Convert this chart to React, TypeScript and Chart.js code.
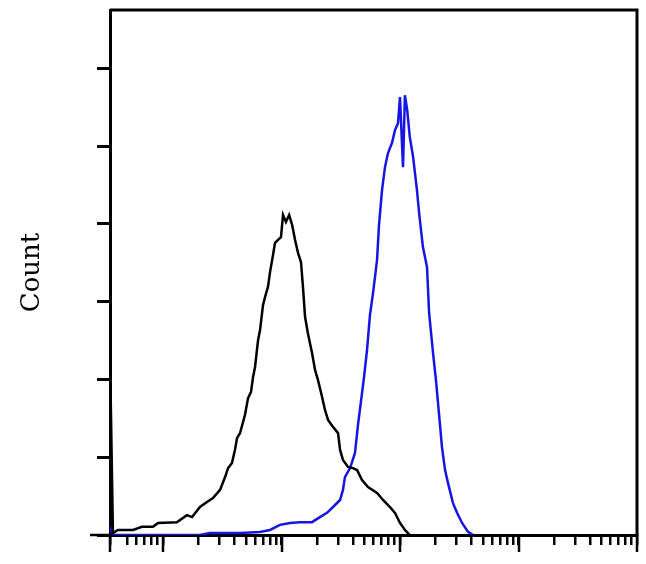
import { useEffect, useRef } from 'react';
import { Chart, registerables } from 'chart.js';

Chart.register(...registerables);

// ---- data (fluorescence intensity, count) ----
const X_MIN = 0.357;
const X_MAX = 10000;
const Y_MAX = 135;

const CONTROL_X = [0.357, 0.378, 0.417, 0.558, 0.665, 0.823, 0.907, 1.31, 1.59, 1.76, 2.05, 2.35, 2.64, 3.03, 3.34, 3.54, 3.82, 4.05, 4.21, 4.47, 4.92, 5.22, 5.53, 5.75, 5.98, 6.34, 6.59, 6.98, 7.26, 7.69, 8.0, 8.48, 8.81, 9.34, 9.9, 10.3, 10.9, 11.6, 12.3, 13.0, 13.8, 14.6, 15.2, 15.8, 16.7, 18.1, 19.2, 20.3, 22.0, 23.3, 24.7, 27.2, 30.0, 31.2, 33.0, 36.4, 40.1, 43.4, 47.8, 53.7, 64.0, 71.9, 82.3, 90.7, 100, 110, 121];
const CONTROL_Y = [46.3, 0.5, 1.3, 1.3, 2.1, 2.1, 3.1, 3.3, 5.1, 4.6, 7.2, 8.5, 9.5, 11.6, 14.9, 17.2, 18.5, 21.9, 24.9, 26.2, 30.9, 35.2, 36.8, 40.6, 43.2, 50.1, 52.7, 59.1, 61.2, 63.8, 67.6, 72.0, 75.1, 75.9, 76.6, 82.3, 80.5, 82.3, 79.7, 75.9, 72.5, 70.2, 63.5, 56.1, 51.9, 46.8, 42.4, 39.9, 35.5, 32.1, 29.6, 27.8, 26.2, 21.9, 19.3, 17.5, 17.2, 16.7, 14.1, 12.3, 10.8, 9.0, 7.2, 5.7, 3.1, 1.3, 0];

const STAINED_X = [0.357, 0.378, 2.05, 2.49, 4.47, 6.59, 8.0, 9.71, 11.8, 14.3, 18.1, 21.1, 24.2, 27.2, 31.2, 33.0, 34.3, 37.9, 41.7, 44.2, 47.8, 49.7, 52.7, 55.8, 59.2, 64.0, 66.5, 70.5, 74.7, 79.2, 85.6, 90.7, 96.2, 100, 106, 110, 115, 121, 129, 139, 145, 156, 169, 176, 190, 201, 213, 226, 240, 254, 280, 303, 334, 375, 413];
const STAINED_Y = [2.1, 0, 0, 0.5, 0.5, 0.8, 1.3, 2.6, 3.1, 3.3, 3.3, 4.6, 5.7, 7.2, 9.0, 11.6, 14.9, 17.2, 21.1, 28.3, 36.5, 40.6, 47.6, 56.6, 62.2, 70.7, 79.7, 88.7, 94.6, 98.2, 100.8, 104.1, 105.9, 112.6, 94.6, 113.1, 109.3, 102.3, 97.2, 88.7, 82.8, 74.1, 68.9, 57.1, 46.8, 39.9, 31.4, 22.6, 16.7, 13.4, 8.2, 5.7, 3.1, 0.8, 0];

const X_MAJOR_TICKS = [X_MIN, 1, 10, 100, 1000, 10000];
const X_MINOR_TICKS = [0.5, 0.6, 0.7, 0.8, 0.9, 2, 3, 4, 5, 6, 7, 8, 9, 20, 30, 40, 50, 60, 70, 80, 90, 200, 300, 400, 500, 600, 700, 800, 900, 2000, 3000, 4000, 5000, 6000, 7000, 8000, 9000];
const Y_TICKS = [0, 20, 40, 60, 80, 100, 120];
const Y_TITLE = 'Count';

const CONTROL_COLOR = '#000000';
const STAINED_COLOR = '#1616e2';

const toPoints = (xs: number[], ys: number[]) => xs.map((x, i) => ({ x, y: ys[i] }));

const framePlugin = {
  id: 'frameAndMajorTicks',
  afterDraw(chart: any) {
    const { ctx, chartArea: a, scales } = chart;
    ctx.save();
    ctx.strokeStyle = '#000';
    ctx.lineWidth = 3;
    ctx.beginPath();
    ctx.moveTo(a.left, a.top);
    ctx.lineTo(a.right, a.top);
    ctx.lineTo(a.right, a.bottom);
    ctx.stroke();
    ctx.lineWidth = 2.5;
    ctx.beginPath();
    for (const v of X_MAJOR_TICKS) {
      const px = Math.round(scales.x.getPixelForValue(v));
      ctx.moveTo(px, a.bottom);
      ctx.lineTo(px, a.bottom + 17);
    }
    const py = scales.y.getPixelForValue(0);
    ctx.moveTo(a.left - 20, py);
    ctx.lineTo(a.left, py);
    ctx.stroke();
    ctx.restore();
  },
};

export default function App() {
  const ref = useRef<HTMLCanvasElement | null>(null);

  useEffect(() => {
    if (!ref.current) return;
    const chart = new Chart(ref.current, {
      type: 'line',
      data: {
        datasets: [
          {
            label: 'Control',
            data: toPoints(CONTROL_X, CONTROL_Y),
            borderColor: CONTROL_COLOR,
            borderWidth: 2.5,
            pointRadius: 0,
            fill: false,
          },
          {
            label: 'Stained',
            data: toPoints(STAINED_X, STAINED_Y),
            borderColor: STAINED_COLOR,
            borderWidth: 2.5,
            pointRadius: 0,
            fill: false,
          },
        ],
      },
      options: {
        responsive: false,
        animation: false,
        layout: { padding: { top: 10, right: 9, left: 0, bottom: 0 } },
        plugins: { legend: { display: false }, tooltip: { enabled: false } },
        scales: {
          x: {
            type: 'logarithmic',
            min: X_MIN,
            max: X_MAX,
            ticks: { display: false },
            afterBuildTicks: (s: any) => {
              s.ticks = [...X_MAJOR_TICKS, ...X_MINOR_TICKS]
                .sort((a, b) => a - b)
                .map((v) => ({ value: v }));
            },
            afterFit: (s: any) => {
              s.height = 29;
            },
            grid: {
              display: true,
              drawOnChartArea: false,
              drawTicks: true,
              tickLength: 10,
              color: '#000',
              lineWidth: 2.5,
            },
            border: { display: true, color: '#000', width: 3 },
          },
          y: {
            type: 'linear',
            min: 0,
            max: Y_MAX,
            ticks: { display: false },
            afterBuildTicks: (s: any) => {
              s.ticks = Y_TICKS.map((v) => ({ value: v }));
            },
            afterFit: (s: any) => {
              s.width = 110;
            },
            title: {
              display: true,
              text: Y_TITLE,
              color: '#000',
              font: { family: 'DejaVu Serif', size: 26, weight: 'normal' },
              padding: { top: 17, bottom: 0 },
            },
            grid: {
              display: true,
              drawOnChartArea: false,
              drawTicks: true,
              tickLength: 13,
              color: '#000',
              lineWidth: 3,
            },
            border: { display: true, color: '#000', width: 3 },
          },
        },
      },
      plugins: [framePlugin],
    });
    return () => chart.destroy();
  }, []);

  return (
    <div style={{ position: 'fixed', left: 0, top: 0, width: 646, height: 564, background: '#fff' }}>
      <canvas ref={ref} width={646} height={564} style={{ display: 'block' }} />
    </div>
  );
}
